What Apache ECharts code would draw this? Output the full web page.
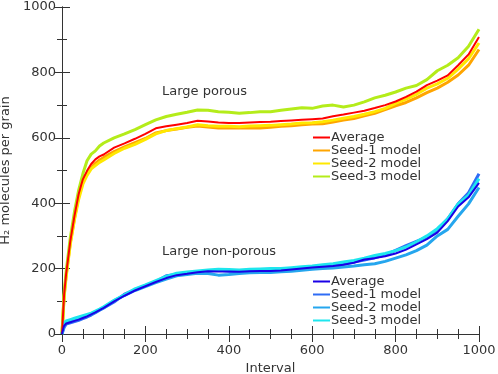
<!DOCTYPE html>
<html><head><meta charset="utf-8">
<script src="https://cdn.jsdelivr.net/npm/echarts@6/dist/echarts.min.js"></script>
<style>html,body{margin:0;padding:0;background:#fff}#c{width:498px;height:374px}</style>
</head><body><div id="c"></div>
<script>
// Interval positions at which values were read
const intervals = [0,5,10,20,30,40,50,60,70,80,90,100,125,150,175,200,225,250,275,300,325,350,375,400,425,450,475,500,525,550,575,600,625,650,675,700,725,750,775,800,825,850,875,900,925,950,975,1000];

// Large porous
const porousAvg   = [0,120,185,285,362,428,473,499,520,534,543,549,570,583,597,612,629,635,640,645,652,650,647,645,645,647,648,649,651,653,655,657,659,666,671,677,683,691,700,711,725,741,761,775,791,822,855,908];
const porousSeed1 = [0,115,180,280,355,420,465,490,508,522,532,540,558,572,585,598,615,622,627,632,636,633,630,630,630,630,630,632,635,637,640,642,643,648,654,659,667,675,686,698,708,722,738,752,770,792,822,870];
const porousSeed2 = [0,112,175,275,350,412,458,485,505,515,525,532,552,568,580,595,612,622,628,633,640,637,635,635,634,636,637,638,640,642,645,646,649,654,660,665,672,680,690,705,718,733,752,765,782,810,842,890];
const porousSeed3 = [0,125,192,295,375,440,490,530,550,560,575,584,600,612,625,640,655,665,672,678,685,684,680,678,675,677,680,680,684,688,692,690,697,700,694,700,710,722,730,740,752,760,778,805,822,845,880,932];

// Large non-porous
const nonporAvg   = [0,25,32,36,40,44,49,54,60,66,73,80,100,117,133,146,159,171,180,184,189,192,191,191,190,192,193,193,194,197,200,203,206,208,212,218,228,232,238,246,258,274,290,310,345,390,418,462];
const nonporSeed1 = [0,20,30,34,38,42,47,52,58,65,73,80,98,122,136,148,160,178,182,186,190,193,196,192,190,191,191,192,194,196,199,202,207,210,214,220,226,233,242,256,270,283,296,318,352,398,432,490];
const nonporSeed2 = [0,28,36,40,44,47,51,56,61,67,74,80,102,118,133,145,157,168,178,182,186,185,180,182,185,187,188,188,190,192,195,198,200,202,205,208,212,215,222,232,242,255,272,300,320,360,398,448];
const nonporSeed3 = [0,34,40,44,48,52,56,60,64,70,76,83,103,120,138,150,163,176,186,190,193,196,198,197,196,198,199,200,200,203,206,208,212,215,220,225,232,240,246,255,266,282,300,322,352,398,425,475];

const legendLabels = ['Average','Seed-1 model','Seed-2 model','Seed-3 model'];
const annotations = ['Large porous','Large non-porous'];

const FONT = 'DejaVu Sans';
const TXT = '#333';
const pair = arr => arr.map((v,i)=>[intervals[i], v]);

function mk(name, arr, color, width, z){
  return {type:'line', name, data:pair(arr), showSymbol:false, symbol:'none', z,
    lineStyle:{color, width}, itemStyle:{color}, animation:false};
}

const series = [
  mk('Seed-1 model|p', porousSeed1, '#ffa500', 3, 2),
  mk('Seed-2 model|p', porousSeed2, '#ffe800', 3, 2),
  mk('Seed-3 model|p', porousSeed3, '#b4ec1a', 3, 2),
  mk('Average|p', porousAvg, '#ff0000', 2, 3),
  mk('Seed-1 model|n', nonporSeed1, '#2f6cf5', 3, 2),
  mk('Seed-2 model|n', nonporSeed2, '#25a6ee', 3, 2),
  mk('Seed-3 model|n', nonporSeed3, '#1ee6ee', 3, 2),
  mk('Average|n', nonporAvg, '#1a00e6', 2, 3)
];

const legendBase = {
  orient:'vertical', icon:'rect', itemWidth:17, itemHeight:2, itemGap:0, padding:0,
  textStyle:{fontFamily:FONT, fontSize:13, color:TXT, lineHeight:12.5, padding:[0,0,0,-4]},
  formatter: n => n.split('|')[0], selectedMode:false
};

const axisCommon = {
  min:0, max:1000,
  axisLine:{show:true, lineStyle:{color:TXT, width:1}},
  axisTick:{show:true, inside:true, length:8, lineStyle:{color:TXT}},
  minorTick:{show:true, length:5, lineStyle:{color:TXT}},
  splitLine:{show:false}, minorSplitLine:{show:false}
};

const option = {
  backgroundColor:'#fff',
  animation:false,
  grid:{left:62, right:19, top:7, bottom:40, containLabel:false, outerBoundsMode:'none'},
  xAxis:[
    Object.assign({}, axisCommon, {type:'value', position:'bottom', interval:200,
      minorTick:Object.assign({}, axisCommon.minorTick, {splitNumber:4}),
      axisLabel:{fontFamily:FONT, fontSize:13, color:TXT, margin:10, formatter:v=>String(v)},
      name:'Interval', nameLocation:'middle', nameGap:24,
      nameTextStyle:{fontFamily:FONT, fontSize:13, color:TXT}}),
    Object.assign({}, axisCommon, {type:'value', position:'top', interval:200,
      minorTick:Object.assign({}, axisCommon.minorTick, {splitNumber:4}),
      axisLabel:{show:false}})
  ],
  yAxis:[
    Object.assign({}, axisCommon, {type:'value', position:'left', interval:200,
      minorTick:Object.assign({}, axisCommon.minorTick, {splitNumber:2}),
      axisLabel:{fontFamily:FONT, fontSize:13, color:TXT, margin:6, formatter:v=>String(v)},
      name:'H\u2082 molecules per grain', nameLocation:'middle', nameGap:44, nameRotate:90,
      nameTextStyle:{fontFamily:FONT, fontSize:13, color:TXT}}),
    Object.assign({}, axisCommon, {type:'value', position:'right', interval:200,
      minorTick:Object.assign({}, axisCommon.minorTick, {splitNumber:2}),
      axisLabel:{show:false}})
  ],
  legend:[
    Object.assign({}, legendBase, {left:313, top:131,
      data:['Average|p','Seed-1 model|p','Seed-2 model|p','Seed-3 model|p']}),
    Object.assign({}, legendBase, {left:313, top:275,
      data:['Average|n','Seed-1 model|n','Seed-2 model|n','Seed-3 model|n']})
  ],
  graphic:[
    {type:'text', left:162, top:85, style:{text:annotations[0], font:'13px "DejaVu Sans"', fill:TXT}},
    {type:'text', left:162, top:245, style:{text:annotations[1], font:'13px "DejaVu Sans"', fill:TXT}}
  ],
  series
};

const chart = echarts.init(document.getElementById('c'), null, {renderer:'canvas'});
chart.setOption(option);
</script>
</body></html>
